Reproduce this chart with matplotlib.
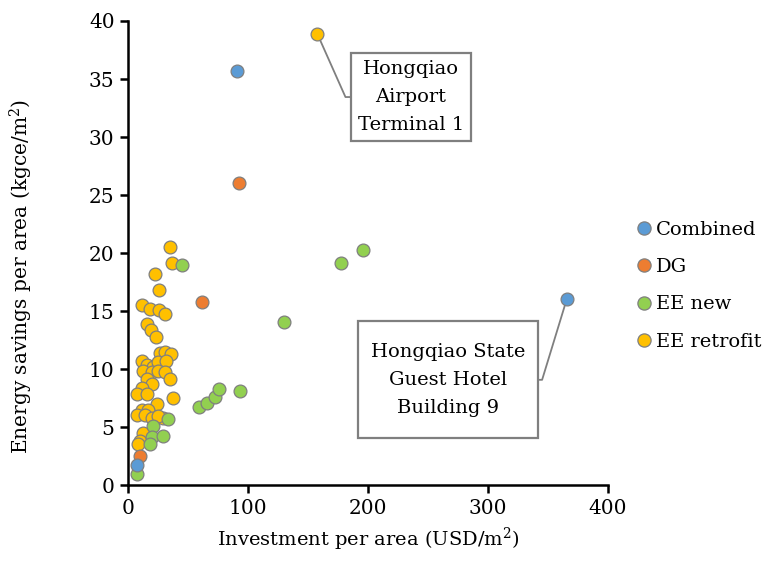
import matplotlib
matplotlib.use("Agg")
import matplotlib.pyplot as plt
from matplotlib.lines import Line2D
from matplotlib.path import Path

# Data (USD/m2, kgce/m2)
combined_x = [90.6, 366.0, 6.8]
combined_y = [35.7, 16.1, 1.8]

dg_x = [92.2, 61.4, 9.6]
dg_y = [26.05, 15.8, 2.5]

ee_new_x = [44.9, 195.7, 177.4, 130.0, 58.8, 65.8, 72.2, 75.8, 93.3,
            32.7, 20.7, 19.9, 28.5, 17.9, 7.3]
ee_new_y = [19.0, 20.3, 19.2, 14.1, 6.8, 7.1, 7.65, 8.3, 8.1,
            5.7, 5.1, 4.15, 4.3, 3.6, 0.96]

ee_retro_x = [157.6, 34.6, 36.0, 21.9, 25.2, 11.5, 17.9, 25.7, 30.5, 15.2,
              18.5, 22.7, 26.3, 30.5, 35.2, 11.0, 15.2, 20.7, 24.9, 31.0,
              12.4, 19.4, 24.9, 30.5, 15.2, 34.6, 19.4, 11.0, 6.8, 15.2,
              37.4, 23.5, 11.0, 16.5, 6.8, 13.8, 19.4, 29.0, 24.9, 12.4,
              9.6, 7.7]
ee_retro_y = [38.9, 20.5, 19.2, 18.2, 16.8, 15.5, 15.2, 15.1, 14.8, 13.9,
              13.4, 12.8, 11.4, 11.5, 11.3, 10.7, 10.4, 10.2, 10.6, 10.7,
              9.9, 9.8, 9.9, 9.8, 9.2, 9.2, 8.7, 8.4, 7.9, 7.9,
              7.5, 7.0, 6.5, 6.5, 6.1, 6.1, 5.8, 5.8, 6.0, 4.5,
              3.8, 3.6]

labels = ["Combined", "DG", "EE new", "EE retrofit"]
colors = ["#5B9BD5", "#ED7D31", "#92D050", "#FFC000"]

plt.rcParams['font.family'] = ['DejaVu Serif']
plt.rcParams['mathtext.fontset'] = 'dejavuserif'


def padded_box(padx, pady):
    """square box with separate horizontal / vertical padding"""
    def style(x0, y0, width, height, mutation_size):
        px, py = padx * mutation_size, pady * mutation_size
        x1, y1 = x0 - px, y0 - py
        x2, y2 = x0 + width + px, y0 + height + py
        return Path([(x1, y1), (x2, y1), (x2, y2), (x1, y2), (x1, y1)],
                    closed=True)
    return style


fig = plt.figure(figsize=(7.67, 5.61), dpi=100)
ax = fig.add_axes([0.1675, 0.1346, 0.6248, 0.828])

edge = "#7F7F7F"
msize = 85
fs = 14.5
series = [(ee_retro_x, ee_retro_y, 3), (ee_new_x, ee_new_y, 2),
          (dg_x, dg_y, 1), (combined_x, combined_y, 0)]
for xs, ys, i in series:
    ax.scatter(xs, ys, s=msize, c=colors[i], edgecolors=edge,
               linewidths=0.9, zorder=3)

ax.set_xlim(0, 400)
ax.set_ylim(0, 40)
ax.set_xticks([0, 100, 200, 300, 400])
ax.set_yticks(range(0, 41, 5))
for s in ["top", "right"]:
    ax.spines[s].set_visible(False)
for s in ["left", "bottom"]:
    ax.spines[s].set_linewidth(1.8)
ax.tick_params(direction='out', length=6, width=1.8, labelsize=fs, pad=4)

ax.set_xlabel(r"Investment per area (USD/m$^2$)", fontsize=14, labelpad=5)
ax.set_ylabel(r"Energy savings per area (kgce/m$^2$)", fontsize=fs)
ax.yaxis.set_label_coords(-0.196, 0.45)

# callouts
ax.annotate("Hongqiao\nAirport\nTerminal 1",
            xy=(ee_retro_x[0], ee_retro_y[0]), xytext=(235.8, 33.45),
            ha='center', va='center', fontsize=14, linespacing=1.72,
            bbox=dict(boxstyle=padded_box(0.35, 0.35), fc='white', ec=edge, lw=1.6),
            arrowprops=dict(arrowstyle='-', color=edge, lw=1.3, shrinkA=0, shrinkB=0,
                            connectionstyle="angle,angleA=0,angleB=114"),
            zorder=2)
ax.annotate("Hongqiao State\nGuest Hotel\nBuilding 9",
            xy=(combined_x[1], combined_y[1]), xytext=(266.7, 9.1),
            ha='center', va='center', fontsize=14, linespacing=1.72,
            bbox=dict(boxstyle=padded_box(0.68, 1.1), fc='white', ec=edge, lw=1.6),
            arrowprops=dict(arrowstyle='-', color=edge, lw=1.3, shrinkA=0, shrinkB=0,
                            connectionstyle="angle,angleA=0,angleB=73"),
            zorder=2)

handles = [Line2D([], [], ls='none', marker='o', markersize=9.5,
                  markerfacecolor=c, markeredgecolor=edge, markeredgewidth=0.9)
           for c in colors]
ax.legend(handles, labels, loc='center left', bbox_to_anchor=(1.04, 0.43),
          frameon=False, fontsize=14, handletextpad=0.1, handlelength=1.0,
          labelspacing=1.0, borderaxespad=0)

fig.savefig("out.png", dpi=100)
